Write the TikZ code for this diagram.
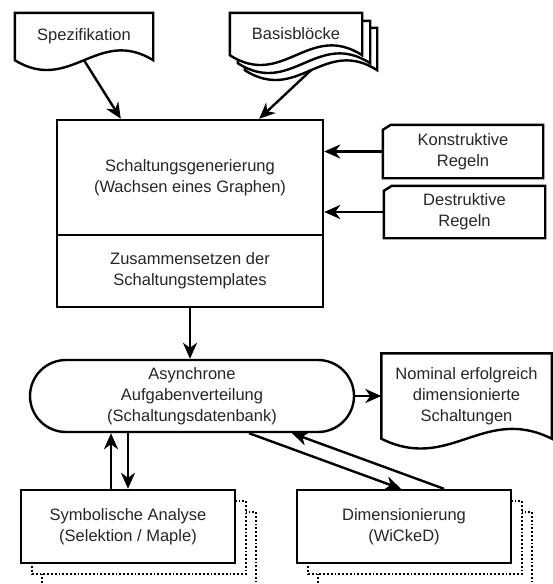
\documentclass[tikz,border=0pt]{standalone}
\usepackage{fontspec}
\setmainfont{Liberation Sans}
\usepackage{tikz}
\usetikzlibrary{arrows.meta,backgrounds,calc}
\tikzstyle{label}=[align=center,inner sep=0pt,text=black!85,font=\fontsize{16.5pt}{21pt}\selectfont]
\tikzstyle{box}=[label,draw,fill=white,line width=2.4pt]
\tikzstyle{stackbox}=[draw,fill=white,line width=1.8pt,dotted,minimum width=214pt,minimum height=73pt]
\tikzstyle{docline}=[draw,fill=white,line width=2.4pt]
% outline of a document symbol with a wavy lower edge
\newcommand{\docpath}[1]{(#1.north west) -- (#1.north east) -- (#1.south east)
  .. controls ($(#1.south east)!0.4!(#1.south west)+(0,-34)$)
  and ($(#1.south west)!0.4!(#1.south east)+(0,34)$) .. (#1.south west) -- cycle}
% outline of a card with a cut upper left corner
\newcommand{\cardpath}[1]{([xshift=8pt]#1.north west) -- (#1.north east) -- (#1.south east)
  -- (#1.south west) -- ([yshift=-5pt]#1.north west) -- cycle}

\begin{document}
\begin{tikzpicture}[x=1pt,y=-1pt,>={Stealth[length=16pt,width=14pt,inset=5pt]}]
        \useasboundingbox (0,0) rectangle (552,584);
        \clip (0,0) rectangle (552,584);
        % inputs
        \node at ( 84,36.5) [label,minimum width=138pt,minimum height=47pt] (spez) {Spezifikation};
        \node at (311,49) [minimum width=132pt,minimum height=42pt] (basis3) {};
        \node at (304,42) [minimum width=132pt,minimum height=42pt] (basis2) {};
        \node at (296,34) [label,minimum width=132pt,minimum height=42pt] (basis) {Basisbl\"ocke};
        % generator
        \node at (190,177.5) [box,minimum width=266pt,minimum height=115pt] (gen) {Schaltungsgenerierung\\(Wachsen eines Graphen)};
        \node at (190,271) [box,minimum width=266pt,minimum height=72pt] (zus) {Zusammensetzen der\\Schaltungstemplates};
        \node at (463,151.5) [label,minimum width=160pt,minimum height=53pt] (konst) {Konstruktive\\Regeln};
        \node at (464.5,212) [label,minimum width=161pt,minimum height=52pt] (destr) {Destruktive\\Regeln};
        \draw [line width=2.4pt] \cardpath{konst};
        \draw [line width=2.4pt] \cardpath{destr};
        % distribution
        \node at (192,396) [box,rounded corners=36pt,minimum width=324pt,minimum height=72pt] (verteil) {Asynchrone\\Aufgabenverteilung\\(Schaltungsdatenbank)};
        \node at (466.5,396) [label,minimum width=170pt,minimum height=85pt] (nominal) {Nominal erfolgreich\\dimensionierte\\Schaltungen};
        % workers
        \node at (149,548.5) [stackbox] (symb3) {};
        \node at (139,537.5) [stackbox] (symb2) {};
        \node at (128,526.5) [box,minimum width=214pt,minimum height=73pt] (symb) {Symbolische Analyse\\(Selektion / Maple)};
        \node at (425,548.5) [stackbox] (dim3) {};
        \node at (415,537.5) [stackbox] (dim2) {};
        \node at (404,526.5) [box,minimum width=214pt,minimum height=73pt] (dim) {Dimensionierung\\(WiCkeD)};
        \begin{scope}[on background layer]
          \path[docline] \docpath{spez};
          \foreach \n in {basis3,basis2,basis}
            \path[docline] \docpath{\n};
          \path[docline] \docpath{nominal};
        \end{scope}
        \begin{scope}[line width=2.4pt]
          \draw [->] (spez.south) -- ([xshift=65pt]gen.north west);
          \draw [->] (basis3.south) -- ([xshift=-65pt]gen.north east);
          \draw [->] (konst.west) -- (konst.west -| gen.east);
          \draw [->] (destr.west) -- (destr.west -| gen.east);
          \draw [->] (zus.south) -- (zus.south |- verteil.north);
          \draw [->] (verteil.east) -- (nominal.west);
          \draw [->] ([xshift=-17pt]symb.north) -- ([xshift=-17pt]symb.north |- verteil.south);
          \draw [->] (symb.north |- verteil.south) -- (symb.north);
          \draw [->] ([xshift=57pt]verteil.south) -- ([xshift=-3pt]dim.north);
          \draw [->] ([xshift=40pt]dim.north) -- ([xshift=100pt]verteil.south);
        \end{scope}
      \end{tikzpicture}
\end{document}
